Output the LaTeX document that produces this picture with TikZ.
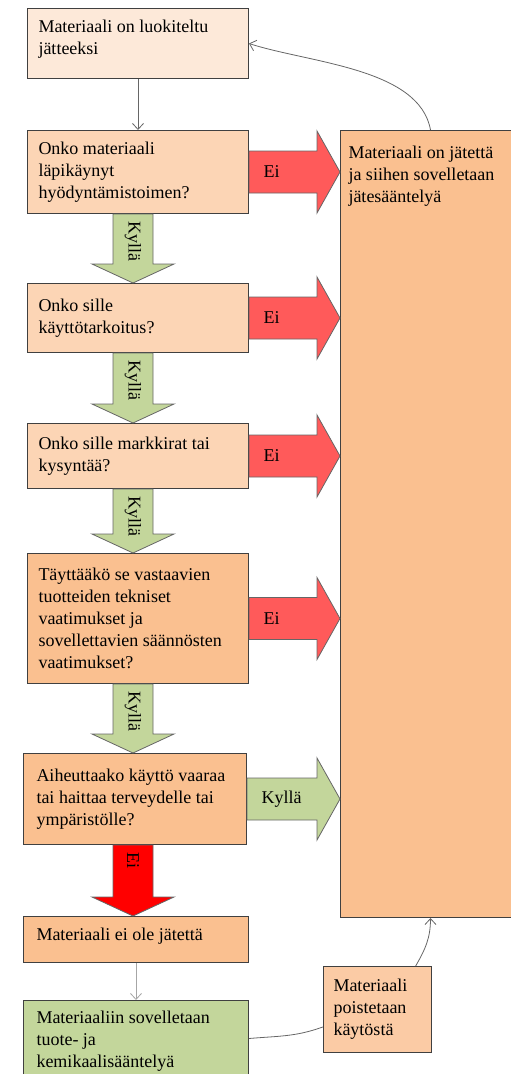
\documentclass[tikz,border=0pt]{standalone}
\usepackage{fontspec}
\setmainfont{Liberation Serif}
\usepackage{tikz}
\usetikzlibrary{arrows.meta,calc,positioning}
\usepackage{xcolor}
\definecolor{Peach}{RGB}{253,233,217}
\definecolor{Apricot}{RGB}{252,213,181}
\definecolor{Orange}{RGB}{250,192,144}
\definecolor{Poisto}{RGB}{251,203,165}
\definecolor{Olive}{RGB}{195,214,155}
\definecolor{Punainen}{RGB}{255,90,90}
\definecolor{Kirkas}{RGB}{255,0,0}
\definecolor{Reuna}{RGB}{64,64,64}

\tikzset{
  box/.style={draw=Reuna, line width=1pt, anchor=north west, inner xsep=11pt, inner ysep=0pt},
  block/.style={draw=Reuna!80, line width=0.8pt},
  link/.style={line width=0.8pt, -{Straight Barb[length=6pt,width=11pt]}}
}

\begin{document}
\begin{tikzpicture}[x=1pt,y=1pt,font=\fontsize{18}{22}\selectfont]
\useasboundingbox (0,0) rectangle (511,-1074);
\coordinate (axis) at (133,0);
% vasen sarake
\node[box,fill=Peach] (b1) at (27,-8) {\parbox[c][70pt][t]{199pt}{\raggedright\rule{0pt}{24pt}Materiaali on luokiteltu\\jätteeksi}};
\node[box,fill=Apricot] (b2) at (27,-130) {\parbox[c][83pt][c]{199pt}{\raggedright Onko materiaali\\läpikäynyt\\hyödyntämistoimen?}};
\node[box,fill=Apricot] (b3) at (27,-283) {\parbox[c][69pt][c]{199pt}{\raggedright Onko sille\\käyttötarkoitus?}};
\node[box,fill=Apricot] (b4) at (27,-423) {\parbox[c][65pt][c]{199pt}{\raggedright Onko sille markkirat tai\\kysyntää?}};
\node[box,fill=Orange] (b5) at (27,-553) {\parbox[c][130pt][c]{199pt}{\raggedright Täyttääkö se vastaavien\\tuotteiden tekniset\\vaatimukset ja\\sovellettavien säännösten\\vaatimukset?}};
\node[box,fill=Orange,inner xsep=13pt] (b6) at (23,-753) {\parbox[c][91pt][c]{197pt}{\raggedright Aiheuttaako käyttö vaaraa\\tai haittaa terveydelle tai\\ympäristölle?}};
\node[box,fill=Orange,inner xsep=13pt] (b7) at (23,-916) {\parbox[c][46pt][t]{199pt}{\raggedright\rule{0pt}{24pt}Materiaali ei ole jätettä}};
\node[box,fill=Olive,inner xsep=13pt] (b8) at (23,-1000) {\parbox[c][76pt][t]{199pt}{\raggedright\rule{0pt}{23pt}Materiaaliin sovelletaan\\tuote- ja\\kemikaalisääntelyä}};
% oikea sarake
\node[box,fill=Orange,inner xsep=8pt] (big) at (340,-130) {\parbox[c][787pt][t]{164pt}{\raggedright\rule{0pt}{28pt}Materiaali on jätettä\\ja siihen sovelletaan\\jätesääntelyä}};
\node[box,fill=Poisto,inner xsep=10pt] (b9) at (323,-966) {\parbox[c][86pt][c]{88pt}{\raggedright Materiaali\\poistetaan\\käytöstä}};
%
% nuolet oikealle
\foreach \b/\f/\t in {b2/Punainen/Ei, b3/Punainen/Ei, b4/Punainen/Ei, b5/Punainen/Ei, b6/Olive/Kyllä} {
  \draw[block,fill=\f] ($(\b.east)+(0,21)$) -- ($(\b.east -| big.west)+(-23,21)$) -- ++(0,20) -- (\b.east -| big.west) -- ++(-23,-41) -- ++(0,20) -- ($(\b.east)+(0,-21)$) -- cycle;
  \node[anchor=west] (ei-\b) at ($(\b.east)+(11,0)$) {\t};
}
% nuolet alas
\foreach \a/\b/\f/\t in {b2/b3/Olive/Kyllä, b3/b4/Olive/Kyllä, b4/b5/Olive/Kyllä, b5/b6/Olive/Kyllä, b6/b7/Kirkas/Ei} {
  \draw[block,fill=\f] ($(\a.south -| axis)+(-20,0)$) -- ($(\b.north -| axis)+(-20,19)$) -- ++(-21,0) -- (\b.north -| axis) -- ++(41,19) -- ++(-21,0) -- ($(\a.south -| axis)+(20,0)$) -- cycle;
  \node[rotate=-90,anchor=west] (kylla-\a) at ($(\a.south -| axis)+(0,-4)$) {\t};
}
%
\draw[link,color=black!60] (b1) -- (b2);
\draw[link,color=black!35] (b7) -- (b8);
\draw[link,color=black!60] (big.north) to[out=100,in=-18,looseness=0.8] (b1.east);
\draw[link,color=black!60] ($(b9.north)!0.7!(b9.north east)$) to[out=60,in=-90] (big.south);
\draw[line width=0.8pt,color=black!60] (b8.east) to[out=5,in=-160] ($(b9.west)!0.4!(b9.south west)$);
\end{tikzpicture}
\end{document}
